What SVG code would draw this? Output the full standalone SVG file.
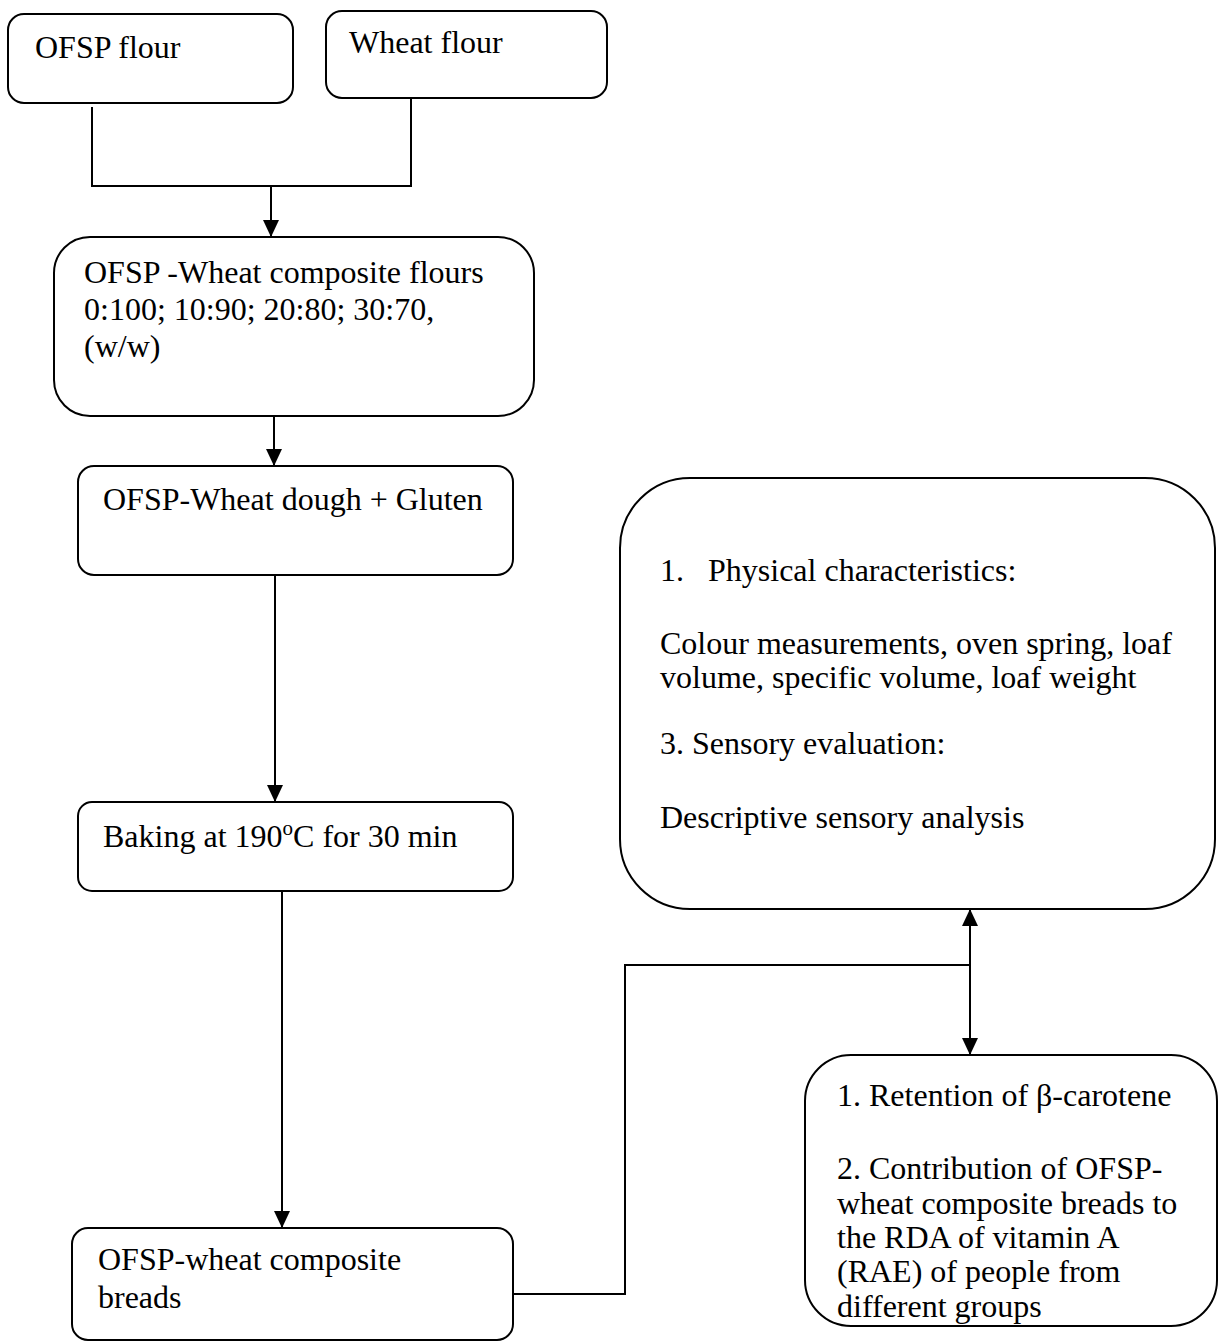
<svg xmlns="http://www.w3.org/2000/svg" width="1221" height="1342" viewBox="0 0 1221 1342">
<style>
.box{fill:#fff;stroke:#000;stroke-width:2}
.t{font-family:"Liberation Serif","Times New Roman",serif;font-size:32px;fill:#000}
.ln{fill:none;stroke:#000;stroke-width:2}
</style>
<defs>
<marker id="ad" markerWidth="16" markerHeight="17" refX="8" refY="17" orient="0" markerUnits="userSpaceOnUse" viewBox="0 0 16 17">
<path d="M0,0 L16,0 L8,17 Z" fill="#000"/>
</marker>
<marker id="au" markerWidth="16" markerHeight="17" refX="8" refY="0" orient="0" markerUnits="userSpaceOnUse" viewBox="0 0 16 17">
<path d="M0,17 L16,17 L8,0 Z" fill="#000"/>
</marker>
</defs>
<rect width="1221" height="1342" fill="#fff"/>

<g id="connectors">
<polyline class="ln" points="92,107 92,186 411,186 411,99"/>
<line class="ln" x1="271" y1="186" x2="271" y2="237" marker-end="url(#ad)"/>
<line class="ln" x1="274" y1="416" x2="274" y2="466" marker-end="url(#ad)"/>
<line class="ln" x1="275" y1="576" x2="275" y2="802" marker-end="url(#ad)"/>
<line class="ln" x1="282" y1="891" x2="282" y2="1228" marker-end="url(#ad)"/>
<polyline class="ln" points="513,1294 625,1294 625,965 970,965"/>
<line class="ln" x1="970" y1="909" x2="970" y2="1055" marker-start="url(#au)" marker-end="url(#ad)"/>
</g>

<g id="ofsp-flour">
<rect class="box" x="8" y="14" width="285" height="89" rx="16"/>
<text class="t" x="35" y="58">OFSP flour</text>
</g>
<g id="wheat-flour">
<rect class="box" x="326" y="11" width="281" height="87" rx="16"/>
<text class="t" x="349" y="53">Wheat flour</text>
</g>
<g id="composite-flours">
<rect class="box" x="54" y="237" width="480" height="179" rx="36"/>
<text class="t" x="84" y="283">OFSP -Wheat composite flours</text>
<text class="t" x="84" y="320">0:100; 10:90; 20:80; 30:70,</text>
<text class="t" x="84" y="357">(w/w)</text>
</g>
<g id="dough">
<rect class="box" x="78" y="466" width="435" height="109" rx="16"/>
<text class="t" x="103" y="510">OFSP-Wheat dough + Gluten</text>
</g>
<g id="baking">
<rect class="box" x="78" y="802" width="435" height="89" rx="14"/>
<text class="t" x="103" y="847">Baking at 190<tspan font-size="21" dy="-12">o</tspan><tspan dy="12">C for 30 min</tspan></text>
</g>
<g id="breads">
<rect class="box" x="72" y="1228" width="441" height="112" rx="16"/>
<text class="t" x="98" y="1270">OFSP-wheat composite</text>
<text class="t" x="98" y="1308">breads</text>
</g>
<g id="physical">
<rect class="box" x="620" y="478" width="595" height="431" rx="70"/>
<text class="t" x="660" y="581">1.</text>
<text class="t" x="708" y="581">Physical characteristics:</text>
<text class="t" x="660" y="654">Colour measurements, oven spring, loaf</text>
<text class="t" x="660" y="688">volume, specific volume, loaf weight</text>
<text class="t" x="660" y="754">3. Sensory evaluation:</text>
<text class="t" x="660" y="828">Descriptive sensory analysis</text>
</g>
<g id="retention">
<rect class="box" x="805" y="1055" width="412" height="271" rx="46"/>
<text class="t" x="837" y="1106">1. Retention of β-carotene</text>
<text class="t" x="837" y="1179">2. Contribution of OFSP-</text>
<text class="t" x="837" y="1214">wheat composite breads to</text>
<text class="t" x="837" y="1248">the RDA of vitamin A</text>
<text class="t" x="837" y="1282">(RAE) of people from</text>
<text class="t" x="837" y="1317">different groups</text>
</g>
</svg>
